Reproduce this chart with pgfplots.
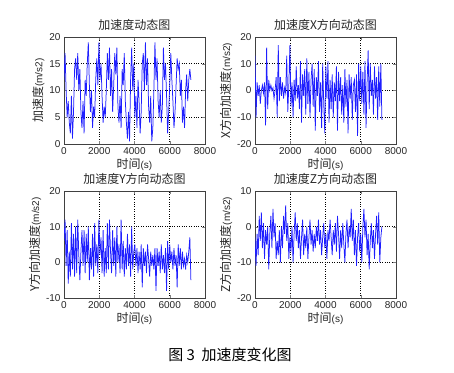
\documentclass[border=0pt]{standalone}
\usepackage{pgfplots}
\usepackage{pgfplotstable}
\pgfplotsset{compat=1.18}
\usepackage{fontspec}
\setmainfont{Liberation Sans}
\newfontfamily\cjk{Noto Sans CJK SC}
\pgfplotstableread{
t a x y z
0 12 13 6 -3
60 17 -10 12 -11
120 10 3 -1 -2
180 5 -2 9 -8
240 8 2 -6 3
300 4 -5 3 -4
360 2 0 -4 4
420 9 2 11 -6
480 1 -1 -2 1
540 6 3 8 -9
600 14 -13 -4 -1
660 16 16 10 -5
720 12 -7 -3 0
780 17 4 12 -12
840 10 0 2 -2
900 14 2 -5 3
960 6 0 3 -6
1020 3 1 9 5
1080 8 -3 -1 -3
1140 2 0 9 1
1200 12 5 -3 -9
1260 9 -10 8 -4
1320 15 17 0 -8
1380 19 -4 10 -1
1440 11 5 -5 -10
1500 6 -2 4 0
1560 10 3 -2 -6
1620 3 -3 8 3
1680 7 1 -4 -2
1740 5 -1 11 6
1800 12 13 -1 -4
1860 16 -8 5 1
1920 11 2 -3 -9
1980 19 17 12 -3
2040 12 -6 2 -7
2100 15 3 7 0
2160 9 -10 -3 -10
2220 4 4 9 -2
2280 7 -4 -4 4
2340 5 9 4 -4
2400 10 -3 -3 1
2460 17 2 11 -6
2520 12 -7 -2 -1
2580 18 11 12 -9
2640 9 -12 3 -3
2700 14 6 -3 2
2760 6 -2 9 -8
2820 11 8 -1 -2
2880 17 -9 7 -6
2940 13 12 -4 0
3000 18 -5 10 -9
3060 7 7 0 -3
3120 4 -10 5 2
3180 9 4 -3 -5
3240 3 10 12 -1
3300 14 -6 -2 -7
3360 11 8 6 -2
3420 17 -15 -4 -6
3480 8 5 4 0
3540 4 -2 -2 -4
3600 1 11 8 2
3660 6 -8 -1 -5
3720 0.5 3 5 -1
3780 12 -14 -4 -8
3840 18 10 10 -3
3900 10 -5 -2 1
3960 15 -16 3 -6
4020 5 9 5 -2
4080 9 -3 -1 -9
4140 3 11 4 -1
4200 12 -12 -3 -4
4260 8 4 3 2
4320 2 -7 -2 -3
4380 6 6 5 -8
4440 15 -10 -7 -1
4500 17 3 4 -5
4560 10 -4 -1 1
4620 19 9 3 -7
4680 11 -15 -3 3
4740 16 7 5 -2
4800 7 -4 1 -9
4860 4 5 -4 -1
4920 9 -9 3 -6
4980 0.5 2 -1 1
5040 3 -12 2 -5
5100 10 8 -2 -10
5160 19 -6 4 -2
5220 12 4 -8 2
5280 16 -16 4 -6
5340 8 6 -1 0
5400 5 -3 3 -3
5460 10 5 -3 5
5520 4 -11 5 -4
5580 7 2 -2 2
5640 18 4 2 -8
5700 12 -8 -3 -1
5760 15 6 4 -11
5820 9 -17 -8 -3
5880 2 10 6 1
5940 6 -4 -2 -7
6000 11 9 5 -2
6060 17 -5 0 -10
6120 12 7 3 0
6180 8 -9 -2 5
6240 3 11 4 -3
6300 6 -14 -1 2
6360 11 3 2 -8
6420 16 15 -7 -2
6480 14 -7 5 -12
6540 15 10 -1 -4
6600 9 -2 4 1
6660 12 4 -2 -6
6720 4 -9 3 -1
6780 7 9 -1 -9
6840 3 -3 1 -2
6900 10 5 -2 3
6960 13 -11 2 -5
7020 8 9 0 4
7080 12 -6 3 -10
7140 14 10 7 -3
7200 12 -11 -5 0
}\data
\pgfplotsset{
  mystyle/.style={
    scale only axis, width=141pt, height=107pt,
    xmin=0, xmax=8000, xtick={0,2000,4000,6000,8000},
    scaled x ticks=false,
    xticklabel style={/pgf/number format/1000 sep={}},
    /pgf/number format/assume math mode=true,
    tick label style={font=\fontsize{10}{11}\selectfont, text=black!85},
    tick align=inside, major tick length=3pt,
    grid=major, major grid style={black, dotted, line width=0.7pt},
    axis line style={black!75, line width=0.7pt},
    title style={font=\fontsize{12}{13}\selectfont\cjk, text=black!85, yshift=-3pt},
    xlabel style={font=\fontsize{12}{13}\selectfont\cjk, text=black!85, yshift=3pt},
    ylabel style={font=\fontsize{12}{13}\selectfont\cjk, text=black!85, yshift=-2pt},
    xlabel={时间{\fontsize{10}{11}\selectfont\rmfamily(s)}},
  },
  myline/.style={color={rgb,255:red,30;green,30;blue,255}, line width=0.75pt, mark=none},
}
\begin{document}
\begin{tikzpicture}
\useasboundingbox (0,0) rectangle (454pt,372pt);
\begin{axis}[mystyle, at={(64pt,335pt)}, anchor=north west,
  ymin=0, ymax=20, ytick={0,5,10,15,20},
  title={加速度动态图}, ylabel={加速度{\fontsize{10}{11}\selectfont\rmfamily(m/s2)}}]
\addplot[myline] table[x=t, y=a] {\data};
\end{axis}
\begin{axis}[mystyle, at={(255pt,335pt)}, anchor=north west,
  ymin=-20, ymax=20, ytick={-20,-10,0,10,20},
  title={加速度X方向动态图}, ylabel={X方向加速度{\fontsize{10}{11}\selectfont\rmfamily(m/s2)}}]
\addplot[myline] table[x=t, y=x] {\data};
\end{axis}
\begin{axis}[mystyle, at={(64pt,181pt)}, anchor=north west,
  ymin=-10, ymax=20, ytick={-10,0,10,20},
  title={加速度Y方向动态图}, ylabel={Y方向加速度{\fontsize{10}{11}\selectfont\rmfamily(m/s2)}}]
\addplot[myline] table[x=t, y=y] {\data};
\end{axis}
\begin{axis}[mystyle, at={(255pt,181pt)}, anchor=north west,
  ymin=-20, ymax=10, ytick={-20,-10,0,10},
  title={加速度Z方向动态图}, ylabel={Z方向加速度{\fontsize{10}{11}\selectfont\rmfamily(m/s2)}}]
\addplot[myline] table[x=t, y=z] {\data};
\end{axis}
\node[font=\fontsize{15}{16}\selectfont\cjk, text=black] at (230pt,17pt) {图 3\ \ 加速度变化图};
\end{tikzpicture}
\end{document}
